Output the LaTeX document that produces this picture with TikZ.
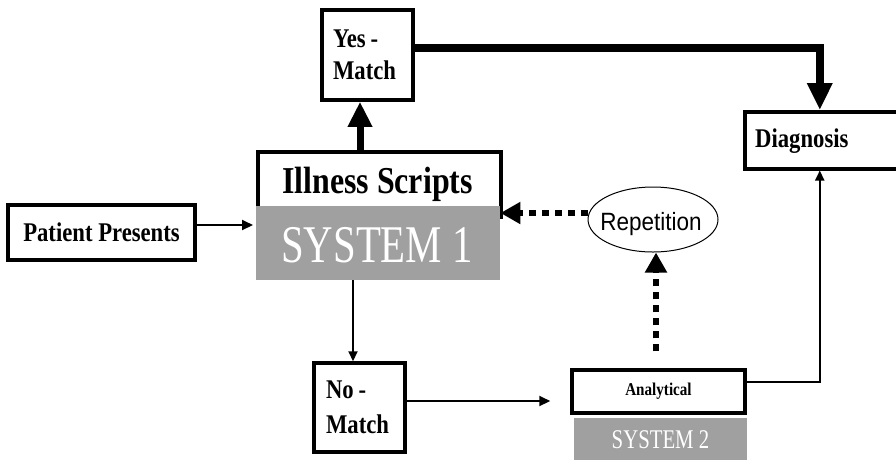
\documentclass[tikz,border=0pt]{standalone}
\usepackage{fontspec}
\setmainfont{Liberation Serif}
\newfontfamily\condserif[FakeStretch=0.84]{Liberation Serif}
\newfontfamily\condsys[FakeStretch=0.77]{Liberation Serif}
\newfontfamily\repfont[FakeStretch=0.9]{Liberation Sans}
\usetikzlibrary{arrows.meta,shapes.geometric,calc}
\definecolor{sysgray}{HTML}{A0A0A0}
\tikzset{
  box/.style={draw=black, line width=3.5pt, rectangle, inner sep=0pt, font=\condserif\bfseries},
  sysbox/.style={fill=sysgray, draw=none, rectangle, inner sep=0pt, text=white},
  thinarrow/.style={line width=2pt, -{Triangle[length=11pt,width=10pt]}},
  thickarrow/.style={line width=8pt, miter limit=10, -{Triangle[length=27pt,width=24pt]}},
  medarrow/.style={line width=7pt, -{Triangle[length=25pt,width=23pt]}},
  dotarrow/.style={line width=6pt, dash pattern=on 7pt off 6pt, -{Triangle[length=20pt,width=21pt]}},
  thinline/.style={line width=2pt, -{Triangle[length=10pt,width=9pt]}},
}
\begin{document}
\begin{tikzpicture}[x=1pt,y=-1pt]
\useasboundingbox (0,0) rectangle (896,459);
\clip (0,0) rectangle (896,459);

% nodes
\node[box, minimum width=91pt, minimum height=90pt, text width=69pt, align=left,
      font=\condserif\bfseries\fontsize{27}{32}\selectfont] (yes) at (367.5,55) {Yes\hspace{5pt}-\\Match};
\node[box, minimum width=243pt, minimum height=65pt, anchor=north west] (ill) at (256,150) {};
\node[font=\condserif\bfseries\fontsize{38}{40}\selectfont, anchor=base, inner sep=0pt] (illtext) at (377.5,193) {Illness Scripts};
\node[sysbox, minimum width=244pt, minimum height=74pt, anchor=north west] (sys1) at (256,206) {};
\node[font=\condsys\fontsize{53}{55}\selectfont, text=white, anchor=base, inner sep=0pt] (sys1text) at (377,262) {SYSTEM 1};
\node[box, minimum width=187pt, minimum height=55pt,
      font=\condserif\bfseries\fontsize{27}{30}\selectfont] (patient) at (101.5,232.5) {Patient Presents};
\node[box, minimum width=177pt, minimum height=57pt, anchor=north west] (diag) at (743,110) {};
\node[font=\condserif\bfseries\fontsize{27}{30}\selectfont, anchor=base west, inner sep=0pt] (diagtext) at (755,147) {Diagnosis};
\node[draw=black, line width=1pt, ellipse, minimum width=130pt, minimum height=65pt, inner sep=0pt] (rep) at (653,219.5) {};
\node[font=\repfont\fontsize{25}{27}\selectfont, anchor=base, inner sep=0pt] (reptext) at (651,230) {Repetition};
\node[box, minimum width=91pt, minimum height=89pt, text width=67pt, align=left,
      font=\condserif\bfseries\fontsize{27}{35}\selectfont] (no) at (359.5,407.5) {No\hspace{5pt}-\\Match};
\node[box, minimum width=173pt, minimum height=43pt,
      font=\condserif\bfseries\fontsize{18}{20}\selectfont] (ana) at (658.5,391.5) {Analytical};
\node[sysbox, minimum width=173pt, minimum height=44pt, anchor=north west] (sys2) at (574,418) {};
\node[font=\condsys\fontsize{27}{29}\selectfont, text=white, anchor=base, inner sep=0pt] (sys2text) at (660.5,448) {SYSTEM 2};

% connectors
\draw[thinarrow, shorten >=3pt] ([yshift=7.5pt]patient.east) -- ([yshift=7.5pt]patient.east -| sys1.west);
\draw[medarrow] ([xshift=-7.5pt]yes.south |- ill.north) -- ([xshift=-7.5pt]yes.south);
\draw[thickarrow] ([yshift=7pt]yes.east) -| ([xshift=-13.5pt]diag.north);
\draw[thinline] ([xshift=-6.5pt]no.north |- sys1.south) -- ([xshift=-6.5pt]no.north);
\draw[thinarrow, shorten >=20pt] ([yshift=6.5pt]no.east) -- ([yshift=6.5pt]no.east -| ana.west);
\draw[thinline] ([yshift=9.5pt]ana.east) -| ([xshift=-13.5pt]diag.south);
\draw[dotarrow, shorten <=17pt] ([xshift=3pt]rep.south |- ana.north) -- ([xshift=3pt]rep.south);
\draw[dotarrow] ([yshift=6.5pt]rep.west) -- ([yshift=6.5pt]rep.west -| sys1.east);
\end{tikzpicture}
\end{document}
